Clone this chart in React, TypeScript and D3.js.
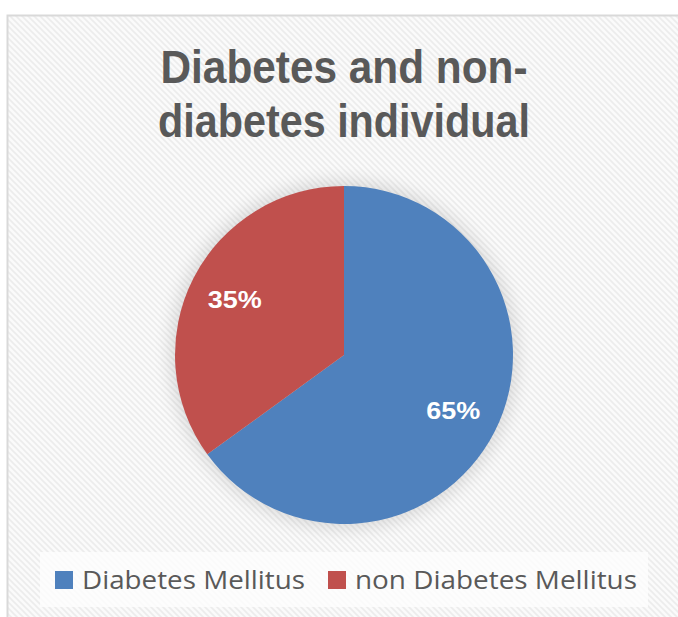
import React from 'react';
import * as d3 from 'd3';

const categories = ['Diabetes Mellitus', 'non Diabetes Mellitus'];
const values = [65, 35];
const colors = ['#4F81BD', '#C0504D'];
const titleLines = ['Diabetes and non-', 'diabetes individual'];

const W = 678;
const H = 617;

const App: React.FC = () => {
  const cx = 344;
  const cy = 355;
  const r = 169;

  const pie = d3.pie<number>().sort(null).value(d => d);
  const arcs = pie(values);
  const arc = d3.arc<d3.PieArcDatum<number>>().innerRadius(0).outerRadius(r);
  // centroid of this one sits where Excel puts the labels
  const labelArc = d3.arc<d3.PieArcDatum<number>>().innerRadius(r * 0.45).outerRadius(r);
  const total = d3.sum(values);

  return (
    <svg width={W} height={H} style={{ position: 'absolute', left: 0, top: 0, background: '#fff' }}
      fontFamily="'Open Sans', sans-serif">
      <defs>
        <pattern id="hatch" width="6" height="6" patternUnits="userSpaceOnUse">
          <rect width="6" height="6" fill="#fbfbfb" />
          <path d="M-1,-1 L7,7 M-4,2 L1,7 M2,-4 L7,1" stroke="#ececec" strokeWidth="1.6" />
        </pattern>
        <filter id="shadow" x="-30%" y="-30%" width="160%" height="160%">
          <feGaussianBlur stdDeviation="9" />
        </filter>
      </defs>

      {/* chart area */}
      <rect x={7.5} y={15.5} width={W + 10} height={H + 10} fill="url(#hatch)" stroke="#d9d9d9" strokeWidth={2} />

      {/* title */}
      {titleLines.map((t, i) => (
        <text key={t} x={cx} y={83 + i * 54} textAnchor="middle" fontSize={46} fontWeight={700} fill="#595959"
          fontFamily="'Liberation Sans', Arial, sans-serif"
          textLength={i === 0 ? 367 : 372} lengthAdjust="spacingAndGlyphs">{t}</text>
      ))}

      {/* pie */}
      <g transform={`translate(${cx},${cy})`}>
        <circle r={r + 4} fill="#000" opacity={0.13} filter="url(#shadow)" />
        {arcs.map((a, i) => (
          <path key={categories[i]} d={arc(a) || ''} fill={colors[i]} />
        ))}
        {arcs.map((a, i) => {
          const [lx, ly] = labelArc.centroid(a);
          return (
            <text key={'l' + i} x={lx} y={ly} dy="0.36em" textAnchor="middle" fontSize={23} fontWeight={700} fill="#fff"
              fontFamily="'Liberation Sans', Arial, sans-serif"
              textLength={54} lengthAdjust="spacingAndGlyphs">
              {Math.round((a.data / total) * 100)}%
            </text>
          );
        })}
      </g>

      {/* legend */}
      <rect x={40} y={552} width={608} height={55} fill="#fdfdfd" opacity={0.85} />
      {categories.map((c, i) => {
        const x0 = i === 0 ? 55 : 328;
        return (
          <g key={c}>
            <rect x={x0} y={571} width={18} height={18} fill={colors[i]} />
            <text x={x0 + 27} y={589} fontSize={26} fill="#595959"
              textLength={i === 0 ? 223 : 282} lengthAdjust="spacingAndGlyphs">{c}</text>
          </g>
        );
      })}
    </svg>
  );
};

export default App;
